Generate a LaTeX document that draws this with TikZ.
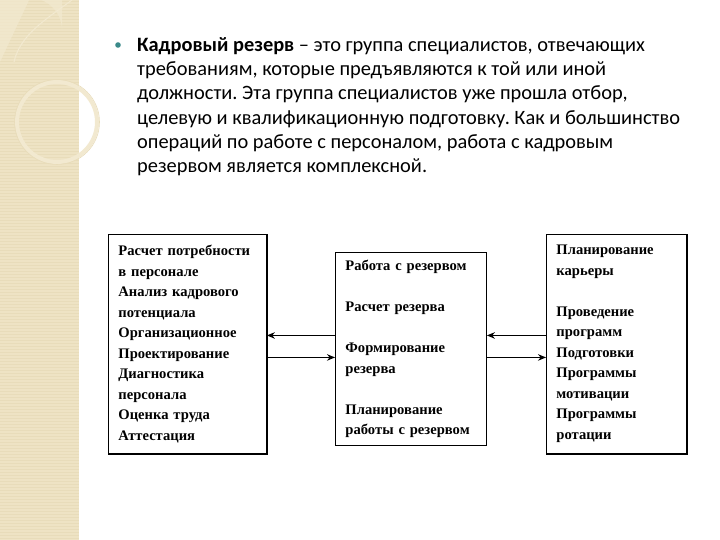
\documentclass[tikz,border=0pt]{standalone}
\usepackage{fontspec}
\setmainfont{Carlito}
\newfontfamily\boxfont{Liberation Serif}
\usetikzlibrary{arrows.meta,positioning,calc}
\frenchspacing

\definecolor{stripe}{RGB}{238,227,196}
\definecolor{stripelight}{RGB}{242,233,208}
\definecolor{stripeline}{RGB}{232,220,186}
\definecolor{bulletteal}{RGB}{58,138,138}

\begin{document}
\begin{tikzpicture}[
    x=1pt, y=-1pt,
    listbox/.style={rectangle, draw=black, line width=0.9pt, inner xsep=10pt, inner ysep=0pt, text width=#1, align=left, anchor=north west, font=\boxfont\bfseries\fontsize{14.6}{20.5}\selectfont},
    boxedge/.style={draw=black, line width=2.2pt},
    arrow/.style={-{Stealth[length=8pt,width=6.5pt]}, line width=1.1pt, draw=black}
]
    % page and left stripe
    \useasboundingbox (0,0) rectangle (720,540);
    \fill[white] (0,0) rectangle (720,540);
    \fill[stripe] (0,0) rectangle (79,540);
    \foreach \y in {1.5,4.5,...,540}
        \draw[stripeline, line width=0.6pt] (0,\y) -- (79,\y);
    \fill[stripelight, opacity=0.7] (0,0) -- (62,0) -- (62,30) arc[start angle=0, end angle=90, radius=32, y radius=-32] -- (0,62) -- cycle;
    \draw[stripelight, line width=1pt] (72,0) .. controls (45,20) and (20,35) .. (14,62);
    \draw[stripelight, line width=4pt] (57,122) circle[radius=40];
    \draw[stripeline, line width=0.6pt] (57,122) circle[radius=42.5];

    % bullet text
    \fill[bulletteal] (118,45) circle[radius=2.8];
    \node (intro) [anchor=north west, inner sep=0pt, align=left, font=\fontsize{20.4}{24.3}\selectfont] at (137,37)
        {\textbf{Кадровый резерв} – это группа специалистов, отвечающих\\
         требованиям, которые предъявляются к той или иной\\
         должности. Эта группа специалистов уже прошла отбор,\\
         целевую и квалификационную подготовку. Как и большинство\\
         операций по работе с персоналом, работа с кадровым\\
         резервом является комплексной.};

    % three boxes
    \node (need) [listbox=138pt, minimum height=219pt] at (108,234)
        {Расчет потребности\\в персонале\\Анализ кадрового\\потенциала\\Организационное\\Проектирование\\Диагностика\\персонала\\Оценка труда\\Аттестация};
    \node (work) [listbox=131pt, minimum height=193pt] at (335,252)
        {Работа с резервом\\[20.5pt]Расчет резерва\\[20.5pt]Формирование\\резерва\\[20.5pt]Планирование\\работы с резервом};
    \node (career) [listbox=120pt, minimum height=219pt] at (546,234)
        {Планирование\\карьеры\\[20.5pt]Проведение\\программ\\Подготовки\\Программы\\мотивации\\Программы\\ротации};

    \draw [boxedge] (need.south west) -- (need.south east) -- (need.north east);
    \draw [boxedge] (career.south west) -- (career.south east) -- (career.north east);

    \draw [arrow] ([yshift=13.5pt]work.west) -- ([yshift=13.5pt]work.west -| need.east);
    \draw [arrow] ([yshift=-8.5pt]work.west -| need.east) -- ([yshift=-8.5pt]work.west);
    \draw [arrow] ([yshift=13.5pt]work.east -| career.west) -- ([yshift=13.5pt]work.east);
    \draw [arrow] ([yshift=-8.5pt]work.east) -- ([yshift=-8.5pt]work.east -| career.west);
\end{tikzpicture}
\end{document}
